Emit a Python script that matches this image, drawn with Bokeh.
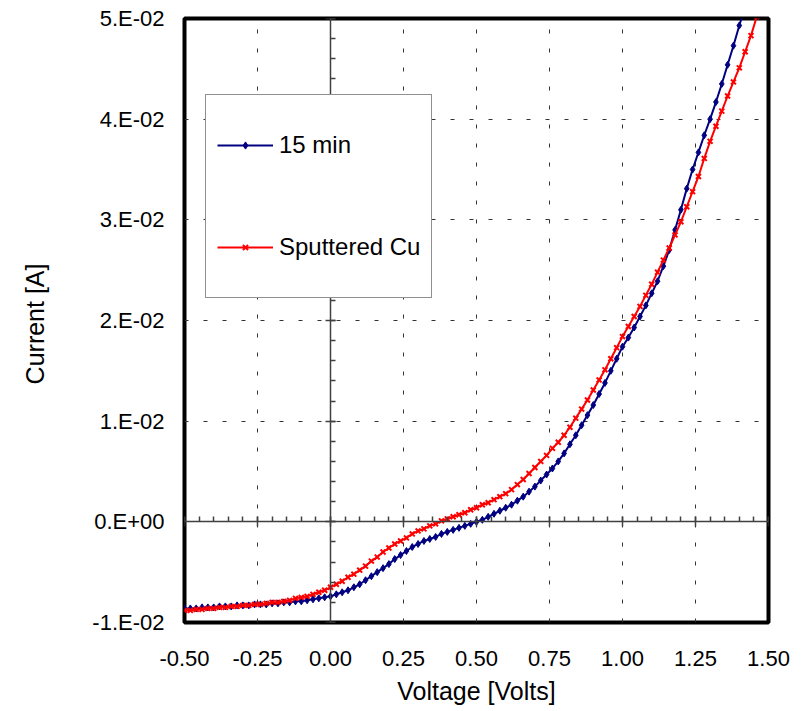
from bokeh.plotting import figure
from bokeh.models import (FixedTicker, CustomJSTickFormatter, LinearAxis, Legend,
                          LegendItem, Range1d)
from bokeh.embed import file_html
from bokeh.resources import INLINE

# ---------------- data ----------------
voltage = [
    -0.50, -0.48, -0.46, -0.44, -0.42, -0.40, -0.38, -0.36, -0.34, -0.32,
    -0.30, -0.28, -0.26, -0.24, -0.22, -0.20, -0.18, -0.16, -0.14, -0.12,
    -0.10, -0.08, -0.06, -0.04, -0.02, 0.00, 0.02, 0.04, 0.06, 0.08,
    0.10, 0.12, 0.14, 0.16, 0.18, 0.20, 0.22, 0.24, 0.26, 0.28,
    0.30, 0.32, 0.34, 0.36, 0.38, 0.40, 0.42, 0.44, 0.46, 0.48,
    0.50, 0.52, 0.54, 0.56, 0.58, 0.60, 0.62, 0.64, 0.66, 0.68,
    0.70, 0.72, 0.74, 0.76, 0.78, 0.80, 0.82, 0.84, 0.86, 0.88,
    0.90, 0.92, 0.94, 0.96, 0.98, 1.00, 1.02, 1.04, 1.06, 1.08,
    1.10, 1.12, 1.14, 1.16, 1.18, 1.20, 1.22, 1.24, 1.26, 1.28,
    1.30, 1.32, 1.34, 1.36, 1.38, 1.40, 1.42, 1.44, 1.46,
]

current_15min = [
    -0.0086, -0.0086, -0.0086, -0.0085, -0.0085, -0.0085, -0.0084, -0.0084, -0.0084, -0.0083,
    -0.0083, -0.0083, -0.0082, -0.0082, -0.0082, -0.0081, -0.0081, -0.0080, -0.0080, -0.0079,
    -0.0079, -0.0078, -0.0077, -0.0076, -0.0075, -0.0074, -0.0072, -0.0070, -0.0068, -0.0065,
    -0.0062, -0.0058, -0.0054, -0.0050, -0.0046, -0.0042, -0.0037, -0.0033, -0.0029, -0.0025,
    -0.0022, -0.0019, -0.0017, -0.0015, -0.0012, -0.0010, -0.0008, -0.0006, -0.0004, -0.0002,
    0.0000, 0.0002, 0.0005, 0.0008, 0.0011, 0.0014, 0.0017, 0.0021, 0.0025, 0.0030,
    0.0035, 0.0041, 0.0047, 0.0053, 0.0060, 0.0068, 0.0077, 0.0086, 0.0096, 0.0106,
    0.0116, 0.0127, 0.0138, 0.0150, 0.0162, 0.0174, 0.0183, 0.0193, 0.0204, 0.0215,
    0.0227, 0.0239, 0.0254, 0.0270, 0.0290, 0.0310, 0.0331, 0.0350, 0.0367, 0.0384,
    0.0400, 0.0417, 0.0435, 0.0454, 0.0473, 0.0493, 0.0512,
]

current_sputtered_cu = [
    -0.0088, -0.0088, -0.0087, -0.0087, -0.0086, -0.0086, -0.0085, -0.0085, -0.0084, -0.0084,
    -0.0083, -0.0083, -0.0082, -0.0082, -0.0081, -0.0080, -0.0080, -0.0079, -0.0078, -0.0076,
    -0.0075, -0.0074, -0.0072, -0.0070, -0.0068, -0.0065, -0.0062, -0.0059, -0.0055, -0.0052,
    -0.0048, -0.0044, -0.0039, -0.0035, -0.0030, -0.0026, -0.0022, -0.0019, -0.0016, -0.0012,
    -0.0009, -0.0007, -0.0004, -0.0002, 0.0001, 0.0003, 0.0005, 0.0007, 0.0009, 0.0012,
    0.0014, 0.0017, 0.0019, 0.0022, 0.0025, 0.0028, 0.0032, 0.0037, 0.0042, 0.0048,
    0.0054, 0.0060, 0.0066, 0.0073, 0.0079, 0.0086, 0.0094, 0.0103, 0.0112, 0.0121,
    0.0131, 0.0141, 0.0151, 0.0162, 0.0173, 0.0184, 0.0194, 0.0204, 0.0214, 0.0225,
    0.0236, 0.0248, 0.0260, 0.0272, 0.0285, 0.0298, 0.0313, 0.0328, 0.0343, 0.0361,
    0.0378, 0.0393, 0.0408, 0.0423, 0.0437, 0.0451, 0.0467, 0.0483, 0.0502,
]

series_names = ["15 min", "Sputtered Cu"]

x_ticks = [-0.50, -0.25, 0.00, 0.25, 0.50, 0.75, 1.00, 1.25, 1.50]
x_tick_labels = ["-0.50", "-0.25", "0.00", "0.25", "0.50", "0.75", "1.00", "1.25", "1.50"]
y_ticks = [-0.01, 0.00, 0.01, 0.02, 0.03, 0.04, 0.05]
y_tick_labels = ["-1.E-02", "0.E+00", "1.E-02", "2.E-02", "3.E-02", "4.E-02", "5.E-02"]
x_minor_ticks = [round(-0.50 + 0.05 * i, 2) for i in range(41)]
y_minor_ticks = [round(-0.010 + 0.002 * i, 3) for i in range(31)]

FONT = "Liberation Sans"
NAVY = "#000080"
RED = "#FF0000"

p = figure(width=800, height=708, output_backend="svg", toolbar_location=None,
           x_range=Range1d(-0.5, 1.5), y_range=Range1d(-0.01, 0.05),
           min_border_left=184, min_border_right=32, min_border_top=18, min_border_bottom=86,
           background_fill_color="white", border_fill_color="white")

p.outline_line_color = "black"
p.outline_line_width = 4

lookup = """
let best = 0;
for (let i = 0; i < vals.length; i++) {
  if (Math.abs(vals[i] - tick) < Math.abs(vals[best] - tick)) best = i;
}
return labs[best];
"""

# outer (label) axes
p.xaxis.ticker = FixedTicker(ticks=x_ticks)
p.xaxis.formatter = CustomJSTickFormatter(args=dict(vals=x_ticks, labs=x_tick_labels), code=lookup)
p.yaxis.ticker = FixedTicker(ticks=y_ticks)
p.yaxis.formatter = CustomJSTickFormatter(args=dict(vals=y_ticks, labs=y_tick_labels), code=lookup)
for ax in (p.xaxis, p.yaxis):
    ax.axis_line_color = None
    ax.major_tick_line_color = None
    ax.minor_tick_line_color = None
    ax.major_label_text_font = FONT
    ax.major_label_text_font_size = "22px"
    ax.major_label_text_color = "black"
    ax.axis_label_text_font = FONT
    ax.axis_label_text_font_size = "25px"
    ax.axis_label_text_font_style = "normal"
    ax.axis_label_text_color = "black"
p.xaxis.axis_label = "Voltage [Volts]"
p.yaxis.axis_label = "Current  [A]"
p.xaxis.major_label_standoff = 22
p.xaxis.axis_label_standoff = 8
p.yaxis.major_label_standoff = 14
p.yaxis.axis_label_standoff = 40

# grid
p.xgrid.ticker = FixedTicker(ticks=x_ticks)
p.ygrid.ticker = FixedTicker(ticks=y_ticks)
for g in (p.xgrid, p.ygrid):
    g.grid_line_color = "#333333"
    g.grid_line_dash = "4 15"
    g.grid_line_width = 1

# inner axes crossing at zero
blank = CustomJSTickFormatter(code="return '';")
for side, ticks, minors in (("below", x_ticks, x_minor_ticks), ("left", y_ticks, y_minor_ticks)):
    ax = LinearAxis(fixed_location=0, ticker=FixedTicker(ticks=ticks, minor_ticks=minors),
                    formatter=blank, axis_line_color="#404040", axis_line_width=1.5,
                    major_tick_in=5, major_tick_out=5, minor_tick_in=5, minor_tick_out=0,
                    major_tick_line_color="#404040", minor_tick_line_color="#404040",
                    major_tick_line_width=1.5, minor_tick_line_width=1.5,
                    major_label_text_font_size="1px", major_label_standoff=0)
    p.add_layout(ax, side)

# series
n1 = len(current_15min)
n2 = len(current_sputtered_cu)
l1 = p.line(voltage[:n1], current_15min, line_color=NAVY, line_width=2)
s1 = p.scatter(voltage[:n1], current_15min, marker="diamond", size=7,
               fill_color=NAVY, line_color=NAVY)
l2 = p.line(voltage[:n2], current_sputtered_cu, line_color=RED, line_width=2)
s2 = p.scatter(voltage[:n2], current_sputtered_cu, marker="x", size=7,
               line_color=RED, line_width=2)

legend = Legend(items=[LegendItem(label=series_names[0], renderers=[l1, s1]),
                       LegendItem(label=series_names[1], renderers=[l2, s2])],
                location=(21, 324), padding=11, spacing=24, margin=0,
                glyph_width=56, glyph_height=18, label_height=78, label_standoff=6,
                label_text_font=FONT, label_text_font_size="24px", label_text_color="black",
                border_line_color="#222222", border_line_width=1,
                background_fill_color="white", background_fill_alpha=1)
p.add_layout(legend)

open("out.html", "w").write(file_html(p, INLINE))
